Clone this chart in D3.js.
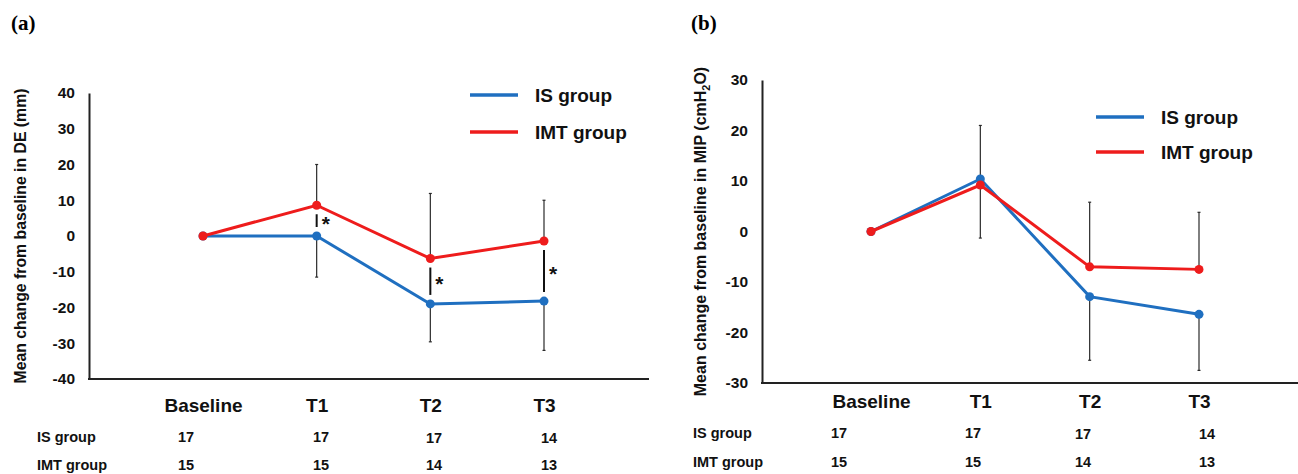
<!DOCTYPE html>
<html>
<head>
<meta charset="utf-8">
<script src="https://cdn.jsdelivr.net/npm/d3@7"></script>
<style>
  html, body { margin: 0; padding: 0; background: #fff; }
  svg { display: block; font-family: Arial, "Liberation Sans", sans-serif; }
</style>
</head>
<body>
<div id="chart"></div>
<script>
// time points on the x axis
const timepoints = ["Baseline", "T1", "T2", "T3"];

// (a) diaphragm excursion, mean change from baseline (mm)
const deIS = [0, 0, -19.0, -18.2];
const deIMT = [0, 8.6, -6.3, -1.4];
const deIS_sd = [0, 11.5, 10.6, 13.8];
const deIMT_sd = [0, 11.4, 18.2, 11.4];
const deSignificant = [false, true, true, true];
const deTicks = [40, 30, 20, 10, 0, -10, -20, -30, -40];

// (b) MIP, mean change from baseline (cmH2O)
const mipIS = [0, 10.4, -12.9, -16.4];
const mipIMT = [0, 9.2, -7.0, -7.5];
const mipIS_sd = [0, 10.6, 12.6, 11.1];
const mipIMT_sd = [0, 10.5, 12.8, 11.3];
const mipSignificant = [false, false, false, false];
const mipTicks = [30, 20, 10, 0, -10, -20, -30];

// number of subjects per group at each time point
const isCounts = [17, 17, 17, 14];
const imtCounts = [15, 15, 14, 13];

const groupNames = ["IS group", "IMT group"];
const colors = { "IS group": "#1f6fc0", "IMT group": "#ee1c1c" };

const W = 1298, H = 474;
const svg = d3.select("#chart").append("svg")
    .attr("width", W)
    .attr("height", H)
    .attr("viewBox", `0 0 ${W} ${H}`);

function drawPanel(p) {
    const g = svg.append("g");

    const x = d3.scalePoint().domain(timepoints).range(p.xRange);
    const y = d3.scaleLinear().domain([d3.min(p.ticks), d3.max(p.ticks)]).range(p.yRange);

    // panel letter
    g.append("text")
        .attr("x", p.letterX).attr("y", 30)
        .attr("font-family", "'Liberation Serif', 'Times New Roman', serif")
        .attr("font-weight", "bold").attr("font-size", 21)
        .text(p.letter);

    // y axis (Excel style: no tick marks)
    const yAxis = g.append("g")
        .attr("transform", `translate(${p.axisX},0)`)
        .call(d3.axisLeft(y).tickValues(p.ticks).tickSize(0).tickPadding(14).tickFormat(d => String(d)));
    yAxis.select(".domain").attr("stroke", "#222").attr("stroke-width", 2);
    yAxis.selectAll("text")
        .attr("font-family", "Arial, 'Liberation Sans', sans-serif")
        .attr("font-size", 15.5).attr("font-weight", "bold").attr("fill", "#111");

    // x axis line
    g.append("line")
        .attr("x1", p.axisX - 1).attr("x2", p.axisEnd)
        .attr("y1", y.range()[0]).attr("y2", y.range()[0])
        .attr("stroke", "#222").attr("stroke-width", 2);

    // category labels
    const xAxis = g.append("g")
        .attr("transform", `translate(0,${p.catY})`)
        .call(d3.axisBottom(x).tickSize(0).tickPadding(0));
    xAxis.select(".domain").remove();
    xAxis.selectAll("text")
        .attr("font-family", "Arial, 'Liberation Sans', sans-serif")
        .attr("font-size", 19).attr("font-weight", "bold").attr("fill", "#111")
        .attr("dy", "0.35em");

    // y axis title
    const title = g.append("text")
        .attr("transform", `translate(${p.titleX},${(p.yRange[0] + p.yRange[1]) / 2}) rotate(-90)`)
        .attr("text-anchor", "middle")
        .attr("dy", "0.35em")
        .attr("font-size", p.titleSize).attr("font-weight", "bold").attr("fill", "#111");
    p.title.forEach(part => {
        const t = title.append("tspan").text(part.text);
        if (part.sub) t.attr("font-size", p.titleSize * 0.68).attr("dy", 4);
        if (part.after) t.attr("dy", -4);
    });

    const series = [
        { name: "IS group", values: p.is, sd: p.isSd },
        { name: "IMT group", values: p.imt, sd: p.imtSd }
    ];

    // error bars: the upper group gets +SD, the lower group gets -SD
    timepoints.forEach((tp, i) => {
        series.forEach(s => {
            if (!s.sd[i]) return;
            const other = series.find(o => o !== s);
            const up = s.values[i] >= other.values[i];
            const end = s.values[i] + (up ? s.sd[i] : -s.sd[i]);
            g.append("line")
                .attr("x1", x(tp)).attr("x2", x(tp))
                .attr("y1", y(s.values[i])).attr("y2", y(end))
                .attr("stroke", "#2a2a2a").attr("stroke-width", 1.2);
            g.append("line")
                .attr("x1", x(tp) - 1.5).attr("x2", x(tp) + 1.5)
                .attr("y1", y(end)).attr("y2", y(end))
                .attr("stroke", "#2a2a2a").attr("stroke-width", 1.2);
        });
    });

    // significance markers between groups
    timepoints.forEach((tp, i) => {
        if (!p.sig[i]) return;
        const top = y(Math.max(p.is[i], p.imt[i])) + 9;
        const bot = y(Math.min(p.is[i], p.imt[i])) - 9;
        g.append("line")
            .attr("x1", x(tp)).attr("x2", x(tp))
            .attr("y1", top).attr("y2", bot)
            .attr("stroke", "#111").attr("stroke-width", 2);
        g.append("text")
            .attr("x", x(tp) + 5).attr("y", (top + bot) / 2 + 10)
            .attr("font-size", 21).attr("font-weight", "bold").attr("fill", "#111")
            .text("*");
    });

    // lines and points
    const line = d3.line().x((d, i) => x(timepoints[i])).y(d => y(d));
    series.forEach(s => {
        g.append("path")
            .datum(s.values)
            .attr("fill", "none")
            .attr("stroke", colors[s.name])
            .attr("stroke-width", 3)
            .attr("d", line);
        g.selectAll(null)
            .data(s.values)
            .enter().append("circle")
            .attr("cx", (d, i) => x(timepoints[i]))
            .attr("cy", d => y(d))
            .attr("r", 4.5)
            .attr("fill", colors[s.name]);
    });

    // legend
    groupNames.forEach((name, i) => {
        const ly = p.legendY + i * p.legendGap;
        g.append("line")
            .attr("x1", p.legendX).attr("x2", p.legendX + 48)
            .attr("y1", ly).attr("y2", ly)
            .attr("stroke", colors[name]).attr("stroke-width", 3.5);
        g.append("text")
            .attr("x", p.legendX + 65).attr("y", ly)
            .attr("dy", "0.35em")
            .attr("font-size", 19).attr("font-weight", "bold").attr("fill", "#111")
            .text(name);
    });

    // sample size table
    [{ name: "IS group", counts: isCounts }, { name: "IMT group", counts: imtCounts }].forEach((row, r) => {
        const ry = p.tableY + r * p.tableGap;
        g.append("text")
            .attr("x", p.tableLabelX).attr("y", ry)
            .attr("dy", "0.35em")
            .attr("font-size", 14.5).attr("font-weight", "bold").attr("fill", "#111")
            .text(row.name);
        row.counts.forEach((c, i) => {
            g.append("text")
                .attr("x", p.countX[i]).attr("y", ry + (i >= 2 && r === 0 ? 1 : 0))
                .attr("dy", "0.35em")
                .attr("text-anchor", "middle")
                .attr("font-size", 14.5).attr("font-weight", "bold").attr("fill", "#111")
                .text(c);
        });
    });
}

drawPanel({
    letter: "(a)", letterX: 11,
    ticks: deTicks, xRange: [203, 544], yRange: [379, 93],
    axisX: 89, axisEnd: 649, catY: 405, titleX: 20, titleSize: 15.8,
    title: [{ text: "Mean change from baseline in DE (mm)" }],
    is: deIS, imt: deIMT, isSd: deIS_sd, imtSd: deIMT_sd, sig: deSignificant,
    legendX: 470, legendY: 95, legendGap: 37,
    tableY: 437, tableGap: 28, tableLabelX: 37,
    countX: [186, 321, 434, 549]
});

drawPanel({
    letter: "(b)", letterX: 691,
    ticks: mipTicks, xRange: [871, 1199], yRange: [383, 80],
    axisX: 762, axisEnd: 1298, catY: 401, titleX: 700, titleSize: 16,
    title: [{ text: "Mean change from baseline in MIP (cmH" }, { text: "2", sub: true }, { text: "O)", after: true }],
    is: mipIS, imt: mipIMT, isSd: mipIS_sd, imtSd: mipIMT_sd, sig: mipSignificant,
    legendX: 1096, legendY: 117, legendGap: 35,
    tableY: 433, tableGap: 29, tableLabelX: 693,
    countX: [839, 973, 1083, 1207]
});
</script>
</body>
</html>
